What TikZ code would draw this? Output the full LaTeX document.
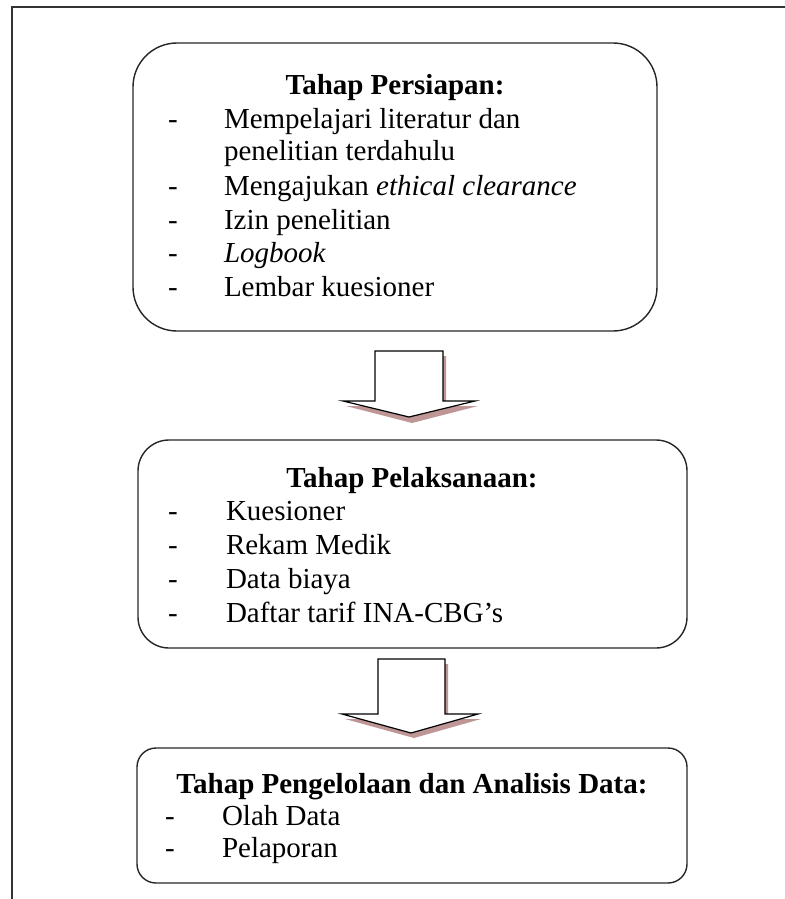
\documentclass[tikz,border=0pt]{standalone}
\usepackage{fontspec}
\setmainfont{Liberation Serif}
\begin{document}
\begin{tikzpicture}[x=0.5pt,y=-0.5pt,
  every node/.style={inner sep=0pt,outer sep=0pt,font=\fontsize{14.5}{17}\selectfont},
  box/.style={draw=black!85,line width=0.7pt},
  arrowshape/.style={draw=black,line width=0.6pt,fill=white,line join=miter},
  arrowshadow/.style={fill=shadowc,draw=none},
  title/.style={anchor=base,font=\fontsize{14.5}{17}\selectfont\bfseries},
  item/.style={anchor=base west},
  dashmark/.style={anchor=base west},
  frame/.style={draw=black!80,line width=0.9pt}]
\definecolor{shadowc}{RGB}{190,150,150}
\useasboundingbox (0,0) rectangle (785,899);
% outer frame (top and left)
\coordinate (ftr) at (785,7);
\coordinate (ftl) at (12,7);
\coordinate (fbl) at (12,899);
\draw[frame] (ftr) -- (ftl) -- (fbl);

% Box 1
\draw[box,rounded corners=22pt] (133,43) rectangle (657,331);
\node[title] (t1) at (395,95) {Tahap Persiapan:};
\foreach \y/\txt/\n in {128/{Mempelajari literatur dan}/a,195/{Mengajukan \textit{ethical clearance}}/c,229/{Izin penelitian}/d,262/{\textit{Logbook}}/e,296/{Lembar kuesioner}/f}{
  \node[dashmark] (d1\n) at (168,\y) {-};
  \node[item] (i1\n) at (224,\y) {\txt};
}
\node[item] (i1b) at (224,161) {penelitian terdahulu};

% Arrow 1
\fill[arrowshadow] (378,356) -- (446,356) -- (446,406) -- (478,406) -- (412,423) -- (346,406) -- (378,406) -- cycle;
\draw[arrowshape] (375,351) -- (443,351) -- (443,401) -- (475,401) -- (409,417) -- (343,401) -- (375,401) -- cycle;

% Box 2
\draw[box,rounded corners=15.5pt] (138,440) rectangle (687,648);
\node[title] (t2) at (412,487) {Tahap Pelaksanaan:};
\foreach \y/\txt/\n in {520/{Kuesioner}/a,554/{Rekam Medik}/b,588/{Data biaya}/c,622/{Daftar tarif INA-CBG’s}/d}{
  \node[dashmark] (d2\n) at (168,\y) {-};
  \node[item] (i2\n) at (226,\y) {\txt};
}

% Arrow 2
\fill[arrowshadow] (381,664) -- (448,664) -- (448,719) -- (481,719) -- (414,738) -- (345,719) -- (381,719) -- cycle;
\draw[arrowshape] (378,659) -- (445,659) -- (445,714) -- (478,714) -- (411,733) -- (342,714) -- (378,714) -- cycle;

% Box 3
\draw[box,rounded corners=9.5pt] (137,748) rectangle (687,883);
\node[title] (t3) at (412,793) {Tahap Pengelolaan dan Analisis Data:};
\node[dashmark] (d3a) at (165,825) {-};
\node[item] (i3a) at (222,825) {Olah Data};
\node[dashmark] (d3b) at (165,857) {-};
\node[item] (i3b) at (222,857) {Pelaporan};
\end{tikzpicture}
\end{document}
